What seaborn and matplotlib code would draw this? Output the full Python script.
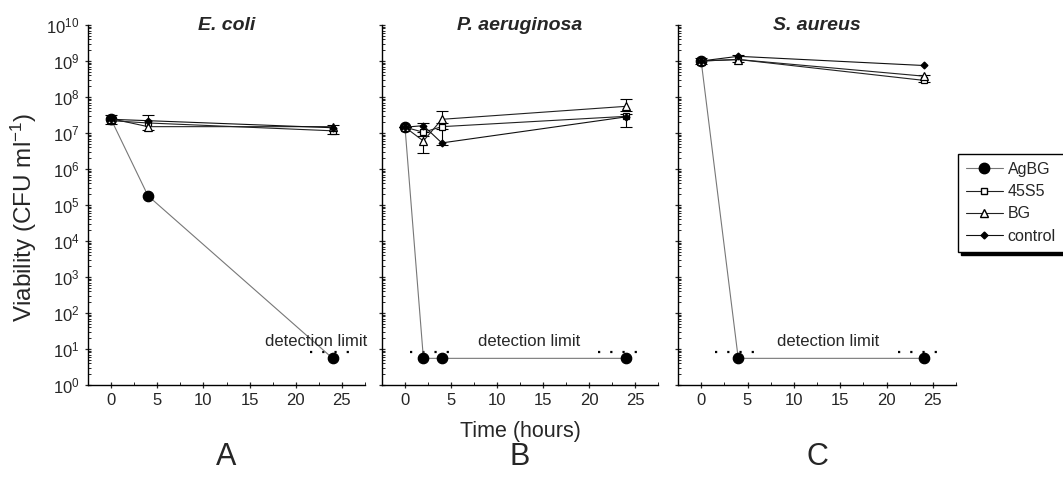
import numpy as np
import pandas as pd
import matplotlib
matplotlib.use("Agg")
import matplotlib.pyplot as plt
import matplotlib.ticker as mticker
import seaborn as sns

# ---------------- data ----------------
panels = ["A", "B", "C"]
titles = ["E. coli", "P. aeruginosa", "S. aureus"]
series = ["AgBG", "45S5", "BG", "control"]

time_A = [0, 4, 24]
agbg_A = [2.4e7, 1.8e5, 5.5]
s45_A = [2.2e7, 1.9e7, 1.15e7]
bg_A = [2.5e7, 1.5e7, 1.5e7]
ctrl_A = [2.4e7, 2.2e7, 1.4e7]
err_lo_A = [1.8e7, 1.2e7, 0.95e7]
err_hi_A = [3.1e7, 3.1e7, 1.7e7]

time_B = [0, 2, 4, 24]
agbg_B = [1.45e7, 5.5, 5.5, 5.5]
s45_B = [1.45e7, 1.05e7, 1.5e7, 2.9e7]
bg_B = [1.45e7, 6.0e6, 2.4e7, 5.5e7]
ctrl_B = [1.45e7, 1.6e7, 5.3e6, 2.8e7]
bg_err_lo_B = [1.45e7, 2.8e6, 1.3e7, 4.0e7]
bg_err_hi_B = [1.45e7, 1.1e7, 4.0e7, 9.0e7]
s45_err_lo_B = [1.45e7, 8.5e6, 4.5e6, 1.5e7]
s45_err_hi_B = [1.45e7, 1.9e7, 1.9e7, 3.3e7]

time_C = [0, 4, 24]
agbg_C = [1.0e9, 5.5, 5.5]
s45_C = [1.0e9, 1.1e9, 2.9e8]
bg_C = [1.0e9, 1.1e9, 3.8e8]
ctrl_C = [1.0e9, 1.35e9, 7.5e8]
err_lo_C = [0.85e9, 0.95e9, 2.6e8]
err_hi_C = [1.2e9, 1.5e9, 4.2e8]

detect_level = 8.5
detect_ranges = [[(21.5, 26.1)], [(0.5, 5.2), (21.0, 25.6)], [(1.5, 6.1), (21.2, 25.8)]]
detect_text_x = [22.2, 13.5, 13.7]

data = {
    "A": (time_A, [agbg_A, s45_A, bg_A, ctrl_A], [(err_lo_A, err_hi_A)]),
    "B": (time_B, [agbg_B, s45_B, bg_B, ctrl_B], [(bg_err_lo_B, bg_err_hi_B), (s45_err_lo_B, s45_err_hi_B)]),
    "C": (time_C, [agbg_C, s45_C, bg_C, ctrl_C], [(err_lo_C, err_hi_C)]),
}

# ---------------- style ----------------
sns.set_style("ticks")
plt.rcParams["font.family"] = ["Liberation Sans", "DejaVu Sans"]
plt.rcParams["mathtext.fontset"] = "custom"
plt.rcParams["mathtext.rm"] = "Liberation Sans"
plt.rcParams["mathtext.it"] = "Liberation Sans:italic"

styles = {
    "AgBG": dict(marker="o", color="#777777", mfc="black", mec="black", ms=7.5, lw=0.8),
    "45S5": dict(marker="s", color="#222222", mfc="white", mec="black", ms=5, lw=0.8),
    "BG": dict(marker="^", color="#222222", mfc="white", mec="black", ms=6, lw=0.8),
    "control": dict(marker="D", color="#111111", mfc="black", mec="black", ms=3.5, lw=0.8),
}

W, H = 1063, 479
fig = plt.figure(figsize=(W / 100, H / 100), dpi=100)
lefts = [88, 382, 678]
widths = [277, 276, 278]
top, bottom = 25, 385

axes = []
for i, p in enumerate(panels):
    ax = fig.add_axes([lefts[i] / W, 1 - bottom / H, widths[i] / W, (bottom - top) / H])
    axes.append(ax)
    t, vals, errs = data[p]
    for s, v in zip(series, vals):
        st = styles[s]
        df = pd.DataFrame({"time": t, "cfu": v})
        sns.lineplot(data=df, x="time", y="cfu", ax=ax, color=st["color"], lw=st["lw"],
                     marker=st["marker"], markersize=st["ms"], markerfacecolor=st["mfc"],
                     markeredgecolor=st["mec"], markeredgewidth=0.9, legend=False, zorder=3,
                     errorbar=None)
    for lo, hi in errs:
        mid = np.sqrt(np.array(lo) * np.array(hi))
        ax.errorbar(t, mid, yerr=[mid - np.array(lo), np.array(hi) - mid], fmt="none",
                    ecolor="black", elinewidth=0.8, capsize=4, capthick=0.8, zorder=2)
    for (x0, x1) in detect_ranges[i]:
        ax.hlines(detect_level, x0, x1, colors="black", linestyles=(0, (1, 4.5)), lw=1.6, zorder=1)
    ax.text(detect_text_x[i], 16, "detection limit", ha="center", va="center", fontsize=12)

    ax.set_yscale("log")
    ax.set_ylim(1, 1e10)
    ax.set_xlim(-2.5, 27.5)
    ax.yaxis.set_major_locator(mticker.LogLocator(base=10, numticks=20))
    ax.yaxis.set_minor_locator(mticker.LogLocator(base=10, subs=np.arange(2, 10), numticks=20))
    ax.xaxis.set_major_locator(mticker.MultipleLocator(5))
    ax.xaxis.set_minor_locator(mticker.MultipleLocator(2.5))
    ax.tick_params(axis="both", which="major", direction="inout", length=5, width=0.9, labelsize=12)
    ax.tick_params(axis="both", which="minor", direction="in", length=2.5, width=0.7)
    ax.set_xlabel("")
    ax.set_ylabel("")
    if i > 0:
        ax.yaxis.set_major_formatter(mticker.NullFormatter())
    sns.despine(ax=ax)
    for sp in ["left", "bottom"]:
        ax.spines[sp].set_linewidth(1.0)
        ax.spines[sp].set_color("black")
    ax.text(0.5, 1.0, titles[i], transform=ax.transAxes, ha="center", va="center",
            fontsize=14, fontweight="bold", fontstyle="italic")
    ax.set_facecolor("white")
    fig.text((lefts[i] + widths[i] / 2) / W, 1 - 457 / H, p, ha="center", va="center", fontsize=22)

fig.text(520 / W, 1 - 431 / H, "Time (hours)", ha="center", va="center", fontsize=15.5)
fig.text(24 / W, 1 - 217 / H, "Viability (CFU ml$^{-1}$)", ha="center", va="center",
         rotation=90, fontsize=17.5)

# legend
handles = [matplotlib.lines.Line2D([], [], color=styles[s]["color"], lw=0.8, marker=styles[s]["marker"],
                                   ms=styles[s]["ms"], mfc=styles[s]["mfc"], mec=styles[s]["mec"])
           for s in series]
leg = fig.legend(handles, series, loc="upper left", bbox_to_anchor=(958 / W, 1 - 154 / H),
                 frameon=True, fancybox=False,
                 shadow={"color": "black", "alpha": 1.0, "ox": 2, "oy": -2.5},
                 edgecolor="black", fontsize=11.5,
                 handlelength=2.3, handletextpad=0.3, labelspacing=0.45, borderpad=0.5,
                 borderaxespad=0)
leg.get_frame().set_linewidth(1.0)

fig.savefig("out.png", dpi=100, facecolor="white")
